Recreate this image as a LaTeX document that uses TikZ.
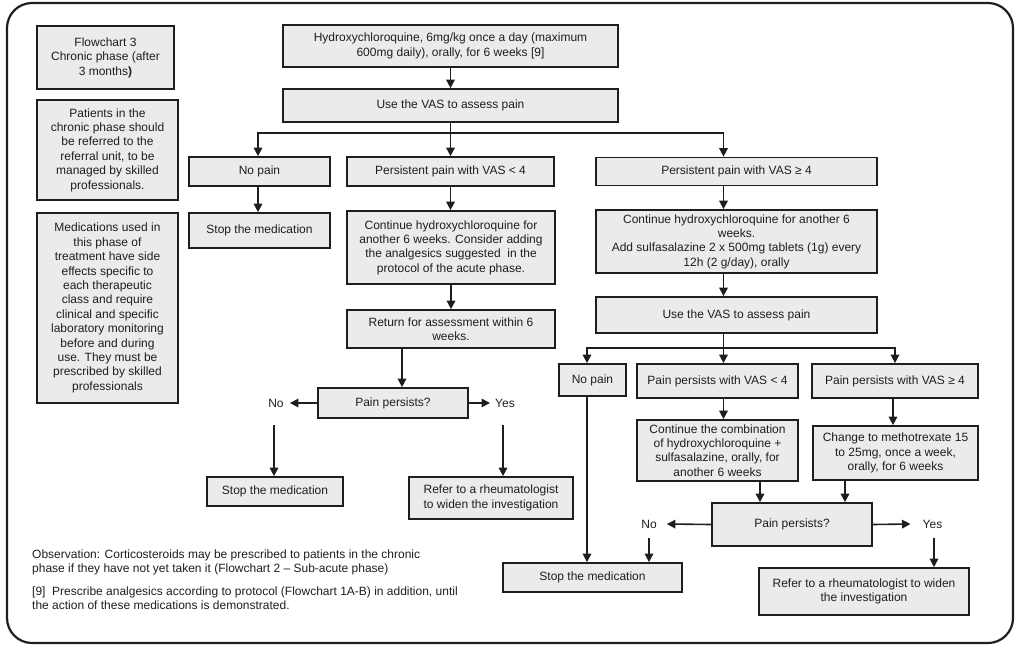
\documentclass[tikz,border=0pt]{standalone}
\usepackage{fontspec}
\setmainfont{Liberation Sans}
\usetikzlibrary{arrows.meta}
\definecolor{boxfill}{RGB}{235,235,235}
\definecolor{ink}{RGB}{30,30,30}
\tikzset{
  box/.style={draw=ink, fill=boxfill, line width=1.7pt, align=center, inner sep=0pt,
    font=\fontsize{12}{14.4}\selectfont, text=ink},
  sidebox/.style={box, line width=2.4pt},
  arr/.style={draw=ink, line width=1.6pt, -{Triangle[length=8.5pt,width=8.5pt]}},
  ln/.style={draw=ink, line width=1.6pt},
  lbl/.style={font=\fontsize{12}{14.4}\selectfont, text=ink, inner sep=0pt},
  note/.style={font=\fontsize{12}{14}\selectfont, text=ink, inner sep=0pt, align=left, anchor=west}
}
\begin{document}
\begin{tikzpicture}[x=1pt,y=-1pt]
\useasboundingbox (0,0) rectangle (1024,647);
\draw[draw=ink, line width=2.2pt, rounded corners=25pt] (7,3) rectangle (1013,643);

% left column
\node[sidebox, line width=1.9pt, minimum width=137pt, minimum height=63pt] (fc) at (105.5,57.5)
  {Flowchart 3\\Chronic phase (after\\3 months\textbf{)}};
\node[sidebox, minimum width=141pt, minimum height=100pt] (pat) at (107.5,150)
  {Patients in the\\chronic phase should\\be referred to the\\referral unit, to be\\managed by skilled\\professionals.};
\node[sidebox, minimum width=141pt, minimum height=190pt] (med) at (107.5,308)
  {Medications used in\\this phase of\\treatment have side\\effects specific to\\each therapeutic\\class and require\\clinical and specific\\laboratory monitoring\\before and during\\use. They must be\\prescribed by skilled\\professionals};

% top
\node[box, minimum width=335pt, minimum height=42pt] (hcq) at (450.5,46)
  {Hydroxychloroquine, 6mg/kg once a day (maximum\\600mg daily), orally, for 6 weeks [9]};
\node[box, minimum width=335pt, minimum height=33pt] (vas1) at (450.5,105.5) {Use the VAS to assess pain};

% first level
\node[box, minimum width=141pt, minimum height=29pt] (nop1) at (259.5,171.5) {No pain};
\node[box, minimum width=207pt, minimum height=29pt] (p4a) at (450.5,171.5) {Persistent pain with VAS < 4};
\node[box, minimum width=281pt, minimum height=28pt] (p4b) at (736.5,171.5) {Persistent pain with VAS ≥ 4};

\node[box, minimum width=141pt, minimum height=35pt] (stop1) at (259.5,230.5) {Stop the medication};
\node[box, minimum width=208pt, minimum height=73pt] (cont1) at (451,247.5)
  {Continue hydroxychloroquine for\\another 6 weeks. Consider adding\\the analgesics suggested\ \ in the\\protocol of the acute phase.};
\node[box, minimum width=208pt, minimum height=38pt] (ret) at (451,329)
  {Return for assessment within 6\\weeks.};
\node[box, minimum width=150pt, minimum height=30pt] (pp1) at (393,403) {Pain persists?};
\node[lbl] (no1) at (276,403) {No};
\node[lbl] (yes1) at (505,403) {Yes};
\node[box, minimum width=136pt, minimum height=29pt] (stop2) at (275,491.5) {Stop the medication};
\node[box, minimum width=164pt, minimum height=42pt] (ref1) at (491,498)
  {Refer to a rheumatologist\\to widen the investigation};

% right branch
\node[box, minimum width=281pt, minimum height=63pt] (cont2) at (736.5,241.5)
  {Continue hydroxychloroquine for another 6\\weeks.\\Add sulfasalazine 2 x 500mg tablets (1g) every\\12h (2 g/day), orally};
\node[box, minimum width=281pt, minimum height=36pt] (vas2) at (736.5,315) {Use the VAS to assess pain};
\node[box, minimum width=67pt, minimum height=32pt] (nop2) at (592.5,380) {No pain};
\node[box, minimum width=161pt, minimum height=34pt] (p5a) at (717.5,381) {Pain persists with VAS < 4};
\node[box, minimum width=166pt, minimum height=34pt] (p5b) at (895,381) {Pain persists with VAS ≥ 4};
\node[box, minimum width=161pt, minimum height=61pt] (comb) at (717.5,450.5)
  {Continue the combination\\of hydroxychloroquine +\\sulfasalazine, orally, for\\another 6 weeks};
\node[box, minimum width=165pt, minimum height=54pt] (mtx) at (895.5,453)
  {Change to methotrexate 15\\to 25mg, once a week,\\orally, for 6 weeks};
\node[box, minimum width=160pt, minimum height=43pt] (pp2) at (792,524.5) {Pain persists?};
\node[lbl] (no2) at (649,524) {No};
\node[lbl] (yes2) at (932.5,524) {Yes};
\node[box, minimum width=179pt, minimum height=29pt] (stop3) at (592.5,577.5) {Stop the medication};
\node[box, minimum width=210pt, minimum height=47pt] (ref2) at (864,591.5)
  {Refer to a rheumatologist to widen\\the investigation};

% notes
\node[note] (obs) at (32,562)
  {Observation: Corticosteroids may be prescribed to patients in the chronic\\phase if they have not yet taken it (Flowchart 2 – Sub-acute phase)};
\node[note] (foot) at (32,598.5)
  {[9]\ \ Prescribe analgesics according to protocol (Flowchart 1A-B) in addition, until\\the action of these medications is demonstrated.};

% connectors, top part
\draw[arr] (hcq.south) -- (vas1.north);
\coordinate (j1) at (450.5,133);
\draw[arr] (vas1.south) -- (p4a.north);
\draw[arr] (j1) -| ([xshift=-1.5pt]nop1.north);
\draw[arr] (j1) -| ([xshift=-13pt]p4b.north);
\draw[arr] ([xshift=-1.5pt]nop1.south) -- ([xshift=-1.5pt]stop1.north);
\draw[arr] (p4a.south) -- (p4a.south |- cont1.north);
\draw[arr] (cont1.south) -- (ret.north);
\draw[arr] ([xshift=-49pt]ret.south) -- ([xshift=-49pt]ret.south |- pp1.north);
\draw[arr] (pp1.west) -- ([xshift=6pt]no1.east);
\draw[arr] (pp1.east) -- ([xshift=-5pt]yes1.west);
\coordinate (n1) at (274,425);
\coordinate (y1) at (503,425);
\draw[arr] (n1) -- (n1 |- stop2.north);
\draw[arr] (y1) -- (y1 |- ref1.north);

% connectors, right part
\draw[arr] ([xshift=-13pt]p4b.south) -- ([xshift=-13pt]p4b.south |- cont2.north);
\draw[arr] ([xshift=-13pt]cont2.south) -- ([xshift=-13pt]cont2.south |- vas2.north);
\coordinate (j2) at (723.5,348);
\draw[ln] ([xshift=-13pt]vas2.south) -- (j2);
\draw[arr] (j2) -- (j2 |- p5a.north);
\draw[arr] (j2) -| ([xshift=-5.5pt]nop2.north);
\draw[arr] (j2) -| (p5b.north);
\draw[arr] (p5a.south -| j2) -- (j2 |- comb.north);
\draw[arr] ([xshift=-2pt]p5b.south) -- ([xshift=-2pt]p5b.south |- mtx.north);
\draw[arr] ([xshift=42.5pt]comb.south) -- ([xshift=42.5pt]comb.south |- pp2.north);
\draw[arr] ([xshift=-50.5pt]mtx.south) -- ([xshift=-50.5pt]mtx.south |- pp2.north);
\draw[arr] (pp2.west) -- ([xshift=10pt]no2.east);
\draw[arr] (pp2.east) -- ([xshift=-12pt]yes2.west);
\coordinate (n2) at (649,538);
\coordinate (y2) at (934,538);
\draw[arr] (n2) -- (n2 |- stop3.north);
\draw[arr] ([xshift=-5.5pt]nop2.south) -- ([xshift=-5.5pt]nop2.south |- stop3.north);
\draw[arr] (y2) -- (y2 |- ref2.north);
\end{tikzpicture}
\end{document}
